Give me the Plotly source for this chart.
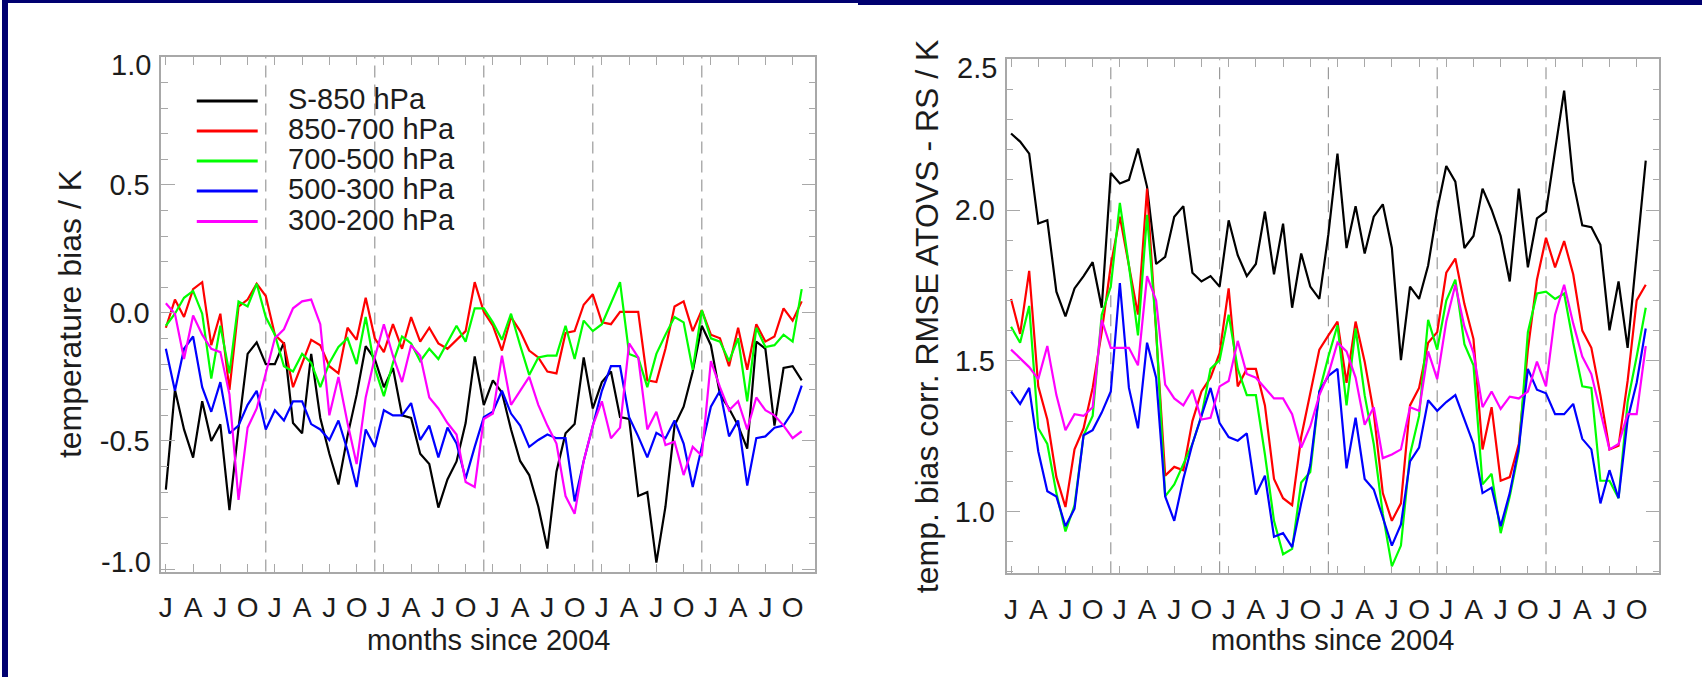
import plotly.graph_objects as go

W, H = 1702, 677

months = list(range(71))
tick_months = list(range(0, 70, 3))
tick_text = ["J", "A", "J", "O"] * 6
year_marks = [11, 23, 35, 47, 59]
series_names = ["S-850 hPa", "850-700 hPa", "700-500 hPa", "500-300 hPa", "300-200 hPa"]
series_colors = ["#000000", "#ff0000", "#00ff00", "#0000ff", "#ff00ff"]

# ---- left panel: temperature bias / K ----
bias_s850 = [-0.69, -0.30, -0.455, -0.565, -0.345, -0.50, -0.435, -0.77, -0.45, -0.16, -0.115, -0.20,
             -0.20, -0.115, -0.43, -0.47, -0.16, -0.41, -0.55, -0.67, -0.48, -0.32, -0.13, -0.18,
             -0.29, -0.215, -0.40, -0.41, -0.55, -0.59, -0.76, -0.65, -0.58, -0.43, -0.17, -0.36,
             -0.263, -0.311, -0.455, -0.578, -0.633, -0.756, -0.92, -0.62, -0.47, -0.434, -0.174, -0.373,
             -0.27, -0.229, -0.407, -0.414, -0.715, -0.70, -0.975, -0.756, -0.44, -0.366, -0.229, -0.05,
             -0.126, -0.318, -0.373, -0.44, -0.53, -0.112, -0.14, -0.44, -0.215, -0.208, -0.263]
bias_850_700 = [-0.058, 0.052, -0.016, 0.093, 0.12, -0.126, -0.003, -0.30, 0.025, 0.052, 0.114, 0.066,
                -0.085, -0.12, -0.29, -0.195, -0.105, -0.126, -0.208, -0.236, -0.058, -0.105, 0.059, -0.099,
                -0.153, -0.044, -0.14, -0.016, -0.112, -0.058, -0.119, -0.14, -0.105, -0.071, 0.12, 0.004,
                -0.05, -0.147, -0.016, -0.071, -0.147, -0.174, -0.229, -0.236, -0.078, -0.071, 0.032, 0.073,
                -0.037, -0.044, 0.004, 0.004, 0.004, -0.263, -0.27, -0.14, 0.025, 0.045, -0.071, 0.011,
                -0.085, -0.099, -0.208, -0.058, -0.222, -0.044, -0.112, -0.092, 0.018, -0.03, 0.045]
bias_700_500 = [-0.05, -0.003, 0.059, 0.086, -0.003, -0.256, -0.05, -0.236, 0.045, 0.025, 0.114, -0.016,
                -0.085, -0.208, -0.229, -0.16, -0.195, -0.29, -0.195, -0.133, -0.099, -0.20, -0.016, -0.215,
                -0.325, -0.195, -0.092, -0.119, -0.188, -0.14, -0.18, -0.112, -0.05, -0.112, 0.018, 0.018,
                -0.037, -0.105, -0.003, -0.126, -0.242, -0.174, -0.167, -0.167, -0.05, -0.18, -0.03, -0.071,
                -0.044, 0.038, 0.12, -0.16, -0.174, -0.29, -0.16, -0.085, -0.016, -0.037, -0.222, 0.011,
                -0.099, -0.112, -0.188, -0.099, -0.345, -0.058, -0.133, -0.126, -0.085, -0.112, 0.093]
bias_500_300 = [-0.14, -0.304, -0.14, -0.092, -0.29, -0.386, -0.27, -0.47, -0.44, -0.359, -0.304, -0.455,
                -0.38, -0.42, -0.345, -0.345, -0.434, -0.455, -0.496, -0.42, -0.537, -0.68, -0.455, -0.523,
                -0.38, -0.40, -0.40, -0.352, -0.496, -0.44, -0.564, -0.448, -0.51, -0.647, -0.523, -0.407,
                -0.386, -0.304, -0.393, -0.44, -0.523, -0.496, -0.475, -0.489, -0.489, -0.736, -0.578, -0.44,
                -0.304, -0.208, -0.208, -0.407, -0.482, -0.564, -0.468, -0.489, -0.42, -0.51, -0.68, -0.523,
                -0.366, -0.304, -0.482, -0.42, -0.674, -0.489, -0.482, -0.448, -0.44, -0.386, -0.284]
bias_300_200 = [0.038, -0.003, -0.18, -0.01, -0.085, -0.14, -0.153, -0.318, -0.73, -0.448, -0.373, -0.236,
                -0.099, -0.064, 0.018, 0.045, 0.052, -0.044, -0.40, -0.25, -0.43, -0.59, -0.33, -0.174,
                -0.044, -0.167, -0.27, -0.126, -0.167, -0.33, -0.373, -0.43, -0.475, -0.66, -0.68, -0.414,
                -0.393, -0.167, -0.359, -0.304, -0.25, -0.359, -0.44, -0.51, -0.715, -0.784, -0.578, -0.44,
                -0.345, -0.489, -0.448, -0.119, -0.174, -0.455, -0.386, -0.516, -0.503, -0.633, -0.523, -0.558,
                -0.188, -0.29, -0.38, -0.345, -0.455, -0.33, -0.38, -0.40, -0.44, -0.489, -0.462]

# ---- right panel: temp. bias corr. RMSE ATOVS - RS / K ----
rmse_s850 = [2.254, 2.227, 2.187, 1.955, 1.966, 1.729, 1.647, 1.74, 1.781, 1.827, 1.676, 2.123,
             2.088, 2.10, 2.204, 2.077, 1.821, 1.845, 1.978, 2.013, 1.792, 1.763, 1.781, 1.746,
             1.966, 1.85, 1.781, 1.821, 1.995, 1.787, 1.955, 1.676, 1.856, 1.746, 1.705, 1.92,
             2.187, 1.874, 2.013, 1.856, 1.978, 2.019, 1.874, 1.502, 1.746, 1.705, 1.816, 2.001,
             2.146, 2.094, 1.874, 1.914, 2.071, 2.001, 1.914, 1.763, 2.071, 1.81, 1.972, 1.995,
             2.198, 2.396, 2.094, 1.949, 1.943, 1.885, 1.601, 1.763, 1.543, 1.85, 2.164]
rmse_850_700 = [1.705, 1.589, 1.798, 1.415, 1.305, 1.114, 1.015, 1.206, 1.276, 1.41, 1.595, 1.816,
                1.978, 1.816, 1.653, 2.071, 1.595, 1.119, 1.148, 1.137, 1.30, 1.398, 1.444, 1.525,
                1.74, 1.415, 1.473, 1.473, 1.352, 1.108, 1.044, 1.021, 1.247, 1.398, 1.537, 1.584,
                1.63, 1.427, 1.63, 1.497, 1.328, 1.061, 0.969, 1.027, 1.352, 1.41, 1.56, 1.595,
                1.792, 1.839, 1.688, 1.572, 1.206, 1.346, 1.102, 1.114, 1.224, 1.537, 1.769, 1.908,
                1.81, 1.897, 1.787, 1.60, 1.543, 1.386, 1.206, 1.218, 1.433, 1.70, 1.752]
rmse_700_500 = [1.613, 1.56, 1.682, 1.276, 1.224, 1.061, 0.934, 1.02, 1.253, 1.317, 1.653, 1.746,
                2.024, 1.816, 1.584, 1.984, 1.607, 1.05, 1.09, 1.16, 1.224, 1.317, 1.473, 1.502,
                1.653, 1.473, 1.386, 1.386, 1.189, 0.969, 0.858, 0.876, 1.096, 1.131, 1.398, 1.514,
                1.618, 1.352, 1.607, 1.386, 1.224, 0.992, 0.818, 0.887, 1.189, 1.317, 1.636, 1.537,
                1.70, 1.769, 1.555, 1.485, 1.09, 1.125, 0.928, 1.05, 1.20, 1.595, 1.723, 1.729,
                1.705, 1.723, 1.56, 1.415, 1.41, 1.102, 1.102, 1.044, 1.363, 1.514, 1.676]
rmse_500_300 = [1.398, 1.357, 1.41, 1.20, 1.067, 1.05, 0.951, 1.009, 1.253, 1.27, 1.328, 1.398,
                1.758, 1.41, 1.276, 1.56, 1.444, 1.05, 0.969, 1.108, 1.224, 1.317, 1.41, 1.293,
                1.247, 1.235, 1.259, 1.056, 1.119, 0.916, 0.928, 0.882, 1.027, 1.154, 1.398, 1.45,
                1.473, 1.143, 1.311, 1.108, 1.073, 0.98, 0.887, 0.957, 1.166, 1.212, 1.369, 1.334,
                1.363, 1.386, 1.305, 1.224, 1.061, 1.079, 0.951, 1.061, 1.212, 1.473, 1.404, 1.392,
                1.323, 1.323, 1.357, 1.241, 1.206, 1.027, 1.137, 1.044, 1.305, 1.427, 1.607]
rmse_300_200 = [1.537, 1.508, 1.479, 1.439, 1.549, 1.386, 1.27, 1.323, 1.317, 1.346, 1.636, 1.543,
                1.543, 1.543, 1.485, 1.781, 1.70, 1.421, 1.375, 1.352, 1.404, 1.305, 1.311, 1.415,
                1.433, 1.566, 1.456, 1.444, 1.41, 1.375, 1.375, 1.323, 1.212, 1.282, 1.386, 1.456,
                1.56, 1.531, 1.444, 1.288, 1.346, 1.177, 1.189, 1.206, 1.346, 1.334, 1.531, 1.439,
                1.63, 1.752, 1.613, 1.526, 1.346, 1.398, 1.34, 1.381, 1.375, 1.398, 1.497, 1.415,
                1.653, 1.752, 1.624, 1.514, 1.456, 1.328, 1.206, 1.224, 1.323, 1.323, 1.549]

left_series = [bias_s850, bias_850_700, bias_700_500, bias_500_300, bias_300_200]
right_series = [rmse_s850, rmse_850_700, rmse_700_500, rmse_500_300, rmse_300_200]

FONT = "Liberation Sans, Arial, sans-serif"
TXT = "#1c1c1c"
FRAME = "#a8a8a8"
NAVY = "#000070"

def px(x):
    return x / W

def py(y):
    return 1 - y / H

# frame positions (pixels)
L = dict(x0=159.5, x1=814.3, y0=56.8, y1=571.6)
R = dict(x0=1005.7, x1=1659.3, y0=59.3, y1=573.3)

fig = go.Figure()
for vals, name, col in zip(left_series, series_names, series_colors):
    fig.add_trace(go.Scatter(x=months, y=vals, mode="lines", name=name,
                             line=dict(color=col, width=2.2), xaxis="x", yaxis="y",
                             showlegend=False))
for vals, name, col in zip(right_series, series_names, series_colors):
    fig.add_trace(go.Scatter(x=months, y=vals, mode="lines", name=name,
                             line=dict(color=col, width=2.2), xaxis="x2", yaxis="y2",
                             showlegend=False))

def xaxis_cfg(dom, anchor):
    return dict(domain=dom, anchor=anchor, range=[-0.5, 71.5],
                tickmode="array", tickvals=tick_months, ticktext=tick_text,
                ticks="inside", ticklen=8, tickwidth=1.2, tickcolor=FRAME,
                showline=True, linecolor=FRAME, linewidth=1.5, mirror="ticks",
                showgrid=False, zeroline=False, ticklabelstandoff=10,
                tickfont=dict(family=FONT, size=28, color=TXT))

def yaxis_cfg(dom, anchor, rng, vals, texts):
    return dict(domain=dom, anchor=anchor, range=rng,
                tickmode="array", tickvals=vals, ticktext=texts,
                ticks="inside", ticklen=14, tickwidth=1.2, tickcolor=FRAME,
                minor=dict(dtick=0.1, tick0=0, ticks="inside", ticklen=7,
                           tickwidth=1.2, tickcolor=FRAME, showgrid=False),
                showline=True, linecolor=FRAME, linewidth=1.5, mirror="ticks",
                showgrid=False, zeroline=False, ticklabelstandoff=4,
                tickfont=dict(family=FONT, size=29, color=TXT))

shapes = [
    dict(type="rect", xref="paper", yref="paper", x0=0, x1=px(6), y0=0, y1=1,
         fillcolor=NAVY, line=dict(width=0), layer="above"),
    dict(type="rect", xref="paper", yref="paper", x0=0, x1=px(857), y0=py(3), y1=1,
         fillcolor=NAVY, line=dict(width=0), layer="above"),
    dict(type="rect", xref="paper", yref="paper", x0=px(857), x1=1, y0=py(5), y1=1,
         fillcolor=NAVY, line=dict(width=0), layer="above"),
]
for xr, yr in (("x", "y domain"), ("x2", "y2 domain")):
    for m in year_marks:
        shapes.append(dict(type="line", xref=xr, yref=yr, x0=m, x1=m, y0=0, y1=1,
                           line=dict(color="#9a9a9a", width=1.2, dash="12px,7px"), layer="below"))

# legend (drawn manually, as in the original)
leg_y = [101, 131, 161, 191, 221.5]
annotations = []
for yy, name, col in zip(leg_y, series_names, series_colors):
    shapes.append(dict(type="line", xref="paper", yref="paper", x0=px(195), x1=px(256),
                       y0=py(yy), y1=py(yy), line=dict(color=col, width=3)))
    annotations.append(dict(xref="paper", yref="paper", x=px(284), y=py(yy - 1.5), text=name,
                            xanchor="left", yanchor="middle", showarrow=False,
                            font=dict(family=FONT, size=29, color=TXT)))

# end-of-axis labels nudged inside the axis span (IDL style)
for xx, yref, yv, txt, shift in ((L["x0"], "y", 1.0, "1.0", -8), (L["x0"], "y", -1.0, "-1.0", 7),
                                 (R["x0"], "y2", 2.5, "2.5", -9)):
    annotations.append(dict(xref="paper", yref=yref, x=px(xx), y=yv, text=txt,
                            xanchor="right", yanchor="middle", xshift=-8, yshift=shift,
                            showarrow=False, font=dict(family=FONT, size=29, color=TXT)))

# axis titles
annotations += [
    dict(xref="paper", yref="paper", x=px(68), y=py((L["y0"] + L["y1"]) / 2),
         text="temperature bias / K", textangle=-90, showarrow=False,
         xanchor="center", yanchor="middle", font=dict(family=FONT, size=32, color=TXT)),
    dict(xref="paper", yref="paper", x=px(926), y=py((R["y0"] + R["y1"]) / 2),
         text="temp. bias corr. RMSE ATOVS - RS / K", textangle=-90, showarrow=False,
         xanchor="center", yanchor="middle", font=dict(family=FONT, size=32, color=TXT)),
    dict(xref="paper", yref="paper", x=px((L["x0"] + L["x1"]) / 2), y=py(640),
         text="months since 2004", showarrow=False, xanchor="center", yanchor="middle",
         font=dict(family=FONT, size=29, color=TXT)),
    dict(xref="paper", yref="paper", x=px((R["x0"] + R["x1"]) / 2), y=py(640),
         text="months since 2004", showarrow=False, xanchor="center", yanchor="middle",
         font=dict(family=FONT, size=29, color=TXT)),
]

fig.update_layout(
    width=W, height=H, margin=dict(l=0, r=0, t=0, b=0),
    paper_bgcolor="white", plot_bgcolor="white",
    xaxis=xaxis_cfg([px(L["x0"]), px(L["x1"])], "y"),
    yaxis=yaxis_cfg([py(L["y1"]), py(L["y0"])], "x", [-1.01, 1.0],
                    [-1.0, -0.5, 0.0, 0.5, 1.0], ["", "-0.5", "0.0", "0.5", ""]),
    xaxis2=xaxis_cfg([px(R["x0"]), px(R["x1"])], "y2"),
    yaxis2=yaxis_cfg([py(R["y1"]), py(R["y0"])], "x2", [0.795, 2.5],
                     [1.0, 1.5, 2.0, 2.5], ["1.0", "1.5", "2.0", ""]),
    shapes=shapes, annotations=annotations, showlegend=False,
)

fig.write_html("out.html")
